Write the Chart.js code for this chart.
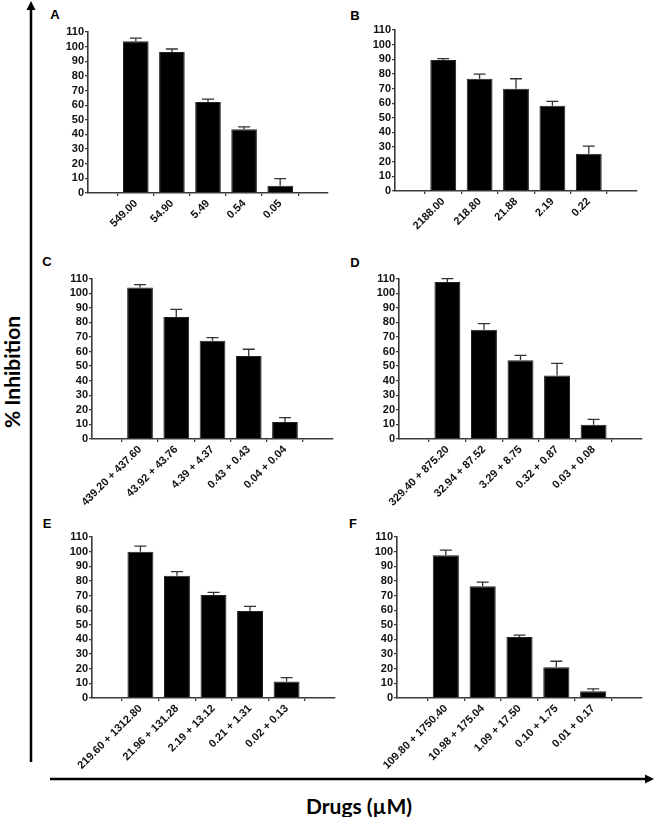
<!DOCTYPE html>
<html>
<head>
<meta charset="utf-8">
<script src="https://cdn.jsdelivr.net/npm/chart.js@4.4.1/dist/chart.umd.min.js"></script>
<style>
  html, body { margin: 0; padding: 0; background: #fff; }
  body { width: 655px; height: 817px; position: relative; overflow: hidden; font-family: "Liberation Sans", Arial, sans-serif; }
  canvas { position: absolute; }
  .letter { position: absolute; font-weight: bold; font-size: 13px; line-height: 1; transform: translate(-50%, -50%); color: #000; }
  .y-title { position: absolute; left: 11px; top: 372px; transform: translate(-50%, -50%) rotate(-90deg); font-family: Lato, "Open Sans", sans-serif; font-weight: bold; font-size: 21px; white-space: nowrap; color: #000; }
  .x-title { position: absolute; left: 359px; top: 805px; transform: translate(-50%, -50%); font-family: Lato, "Open Sans", sans-serif; font-weight: bold; font-size: 21px; white-space: nowrap; color: #000; }
  svg { position: absolute; left: 0; top: 0; }
</style>
</head>
<body>

<svg width="655" height="817">
  <line x1="31" y1="762" x2="31" y2="8" stroke="#000" stroke-width="2.5"/>
  <polygon points="31,1 26.5,10 35.5,10" fill="#000"/>
  <line x1="50" y1="779" x2="646" y2="779" stroke="#000" stroke-width="2.5"/>
  <polygon points="654,779 645,774.5 645,783.5" fill="#000"/>
</svg>

<div class="y-title">% Inhibition</div>
<div class="x-title">Drugs (µM)</div>

<div class="letter" style="left:55px;top:14px">A</div>
<div class="letter" style="left:355px;top:15px">B</div>
<div class="letter" style="left:47px;top:261px">C</div>
<div class="letter" style="left:355px;top:262px">D</div>
<div class="letter" style="left:47px;top:523px">E</div>
<div class="letter" style="left:353px;top:523px">F</div>

<canvas id="chartA" width="305" height="240" style="left:35px;top:0px"></canvas>
<canvas id="chartB" width="315" height="240" style="left:340px;top:0px"></canvas>
<canvas id="chartC" width="305" height="270" style="left:35px;top:240px"></canvas>
<canvas id="chartD" width="315" height="270" style="left:340px;top:240px"></canvas>
<canvas id="chartE" width="305" height="265" style="left:35px;top:510px"></canvas>
<canvas id="chartF" width="315" height="265" style="left:340px;top:510px"></canvas>

<script>
// y axis ticks, shared by all panels
const yTicks = [0, 10, 20, 30, 40, 50, 60, 70, 80, 90, 100, 110];

// A - single drug
const labelsA = ["549.00", "54.90", "5.49", "0.54", "0.05"];
const valuesA = [103.6, 96.3, 62.1, 43.6, 5.0];
const errorsA = [2.2, 2.1, 2.1, 1.6, 4.8];

// B - single drug
const labelsB = ["2188.00", "218.80", "21.88", "2.19", "0.22"];
const valuesB = [89.5, 76.7, 69.9, 58.3, 25.5];
const errorsB = [0.9, 3.2, 6.8, 3.0, 5.2];

// C - combination
const labelsC = ["439.20 + 437.60", "43.92 + 43.76", "4.39 + 4.37", "0.43 + 0.43", "0.04 + 0.04"];
const valuesC = [103.9, 83.8, 67.5, 57.0, 11.7];
const errorsC = [2.0, 5.2, 2.1, 4.6, 2.9];

// D - combination
const labelsD = ["329.40 + 875.20", "32.94 + 87.52", "3.29 + 8.75", "0.32 + 0.87", "0.03 + 0.08"];
const valuesD = [107.8, 74.9, 54.0, 43.5, 9.8];
const errorsD = [2.2, 4.3, 3.4, 8.4, 3.7];

// E - combination
const labelsE = ["219.60 + 1312.80", "21.96 + 131.28", "2.19 + 13.12", "0.21 + 1.31", "0.02 + 0.13"];
const valuesE = [99.9, 83.6, 70.3, 59.4, 11.2];
const errorsE = [3.9, 2.7, 1.8, 3.2, 2.7];

// F - combination
const labelsF = ["109.80 + 1750.40", "10.98 + 175.04", "1.09 + 17.50", "0.10 + 1.75", "0.01 + 0.17"];
const valuesF = [97.5, 76.3, 41.6, 21.0, 4.6];
const errorsF = [3.6, 2.9, 1.4, 4.1, 1.6];

const AXIS_COLOR = "#3a3a3a";
const tickFont = { family: "'Liberation Sans', Arial, sans-serif", size: 11, weight: "bold" };

// only the upper half of the error bar, like the graphpad output
const errorBarPlugin = {
    id: "errorBars",
    afterDatasetsDraw(chart, args, opts) {
        const meta = chart.getDatasetMeta(0);
        const yScale = chart.scales.y;
        const data = chart.data.datasets[0].data;
        const ctx = chart.ctx;
        ctx.save();
        ctx.strokeStyle = "#333";
        ctx.lineWidth = 1.3;
        meta.data.forEach((bar, i) => {
            const yTop = yScale.getPixelForValue(data[i].y + opts.errors[i]);
            ctx.beginPath();
            ctx.moveTo(bar.x, bar.y);
            ctx.lineTo(bar.x, yTop);
            ctx.moveTo(bar.x - 6, yTop);
            ctx.lineTo(bar.x + 6, yTop);
            ctx.stroke();
        });
        ctx.restore();
    }
};

// box = chart area inside the canvas: left, right, top, bottom
function makePanel(id, labels, values, errors, box) {
    const canvas = document.getElementById(id);
    const W = canvas.width;
    const H = canvas.height;

    return new Chart(canvas, {
        type: "bar",
        data: {
            datasets: [{
                data: values.map((v, i) => ({ x: i, y: v })),
                backgroundColor: "#000",
                borderColor: "#222",
                borderWidth: 1,
                barPercentage: 0.71,
                categoryPercentage: 1
            }]
        },
        options: {
            responsive: false,
            animation: false,
            devicePixelRatio: 1,
            layout: { padding: { left: 0, top: box.top, right: W - box.right, bottom: 0 } },
            plugins: {
                legend: { display: false },
                tooltip: { enabled: false },
                errorBars: { errors }
            },
            scales: {
                x: {
                    type: "linear",
                    min: -0.66,
                    max: 4.66,
                    grid: { display: true, drawOnChartArea: false, tickLength: 3, color: AXIS_COLOR, lineWidth: 1.3 },
                    border: { color: AXIS_COLOR, width: 1.6 },
                    ticks: {
                        stepSize: 1,
                        includeBounds: false,
                        autoSkip: false,
                        minRotation: 45,
                        maxRotation: 45,
                        padding: 1,
                        color: "#111",
                        font: tickFont,
                        callback: v => labels[v]
                    },
                    afterFit: s => {
                        s.height = H - box.bottom;
                        s.paddingLeft = 0;
                        s.paddingRight = 0;
                    }
                },
                y: {
                    min: 0,
                    max: 110,
                    afterBuildTicks: s => { s.ticks = yTicks.map(v => ({ value: v })); },
                    grid: { display: true, drawOnChartArea: false, tickLength: 3, color: AXIS_COLOR, lineWidth: 1.3 },
                    border: { color: AXIS_COLOR, width: 1.6 },
                    ticks: { autoSkip: false, padding: 1, color: "#111", font: tickFont },
                    afterFit: s => {
                        s.width = box.left;
                        s.paddingTop = 0;
                        s.paddingBottom = 0;
                    }
                }
            }
        },
        plugins: [errorBarPlugin]
    });
}

makePanel("chartA", labelsA, valuesA, errorsA, { left: 53, right: 293, top: 32, bottom: 193 });
makePanel("chartB", labelsB, valuesB, errorsB, { left: 55, right: 297, top: 30, bottom: 191 });
makePanel("chartC", labelsC, valuesC, errorsC, { left: 57, right: 298, top: 38.7, bottom: 199 });
makePanel("chartD", labelsD, valuesD, errorsD, { left: 59, right: 302, top: 38.7, bottom: 199 });
makePanel("chartE", labelsE, valuesE, errorsE, { left: 57, right: 300, top: 27, bottom: 188 });
makePanel("chartF", labelsF, valuesF, errorsF, { left: 57, right: 302, top: 27, bottom: 188 });
</script>
</body>
</html>
